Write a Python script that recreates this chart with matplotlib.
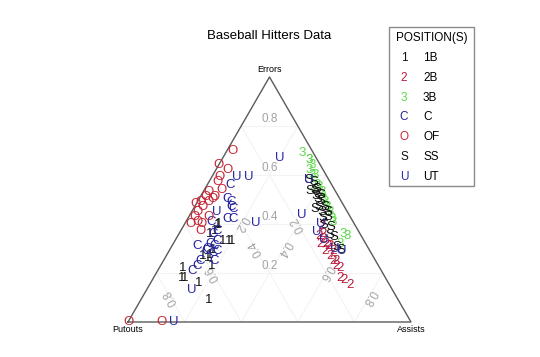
import matplotlib
matplotlib.use("Agg")
import matplotlib.pyplot as plt
from matplotlib.patches import Rectangle
import math

plt.rcParams['font.family'] = ['Liberation Sans', 'DejaVu Sans']

# legend / groups
positions = ['1B', '2B', '3B', 'C', 'OF', 'SS', 'UT']
symbols = ['1', '2', '3', 'C', 'O', 'S', 'U']
colors = ['#111111', '#b81d3e', '#5cd84c', '#22229c', '#c82838', '#111111', '#2a2aa6']

# fractions: putouts, assists, errors
put_1b = [0.48, 0.53, 0.51, 0.50, 0.48, 0.47, 0.59, 0.59, 0.69, 0.72, 0.71, 0.67, 0.67, 0.60, 0.49, 0.55, 0.57]
ast_1b = [0.12, 0.11, 0.12, 0.17, 0.19, 0.20, 0.15, 0.18, 0.08, 0.10, 0.11, 0.17, 0.24, 0.13, 0.12, 0.15, 0.15]
err_1b = [0.40, 0.36, 0.37, 0.33, 0.33, 0.33, 0.26, 0.23, 0.22, 0.18, 0.18, 0.16, 0.09, 0.27, 0.40, 0.29, 0.27]

put_2b = [0.12, 0.13, 0.14, 0.14, 0.16, 0.14, 0.15, 0.13, 0.15, 0.14, 0.14, 0.16, 0.15, 0.14, 0.15, 0.16,
          0.13, 0.15]
ast_2b = [0.49, 0.51, 0.52, 0.54, 0.55, 0.55, 0.58, 0.58, 0.60, 0.61, 0.64, 0.66, 0.68, 0.71, 0.50, 0.52,
          0.56, 0.62]
err_2b = [0.39, 0.36, 0.34, 0.32, 0.29, 0.31, 0.27, 0.29, 0.25, 0.25, 0.22, 0.18, 0.17, 0.15, 0.35, 0.32,
          0.31, 0.23]

put_3b = [0.04, 0.03, 0.05, 0.05, 0.07, 0.05, 0.06, 0.05, 0.06, 0.06, 0.06, 0.06, 0.06, 0.07,
          0.07, 0.06, 0.05, 0.09, 0.03, 0.03, 0.04, 0.05]
ast_3b = [0.27, 0.31, 0.33, 0.35, 0.38, 0.39, 0.42, 0.42, 0.44, 0.45, 0.47, 0.47, 0.49, 0.51,
          0.52, 0.58, 0.60, 0.59, 0.31, 0.33, 0.36, 0.40]
err_3b = [0.69, 0.66, 0.62, 0.60, 0.55, 0.56, 0.52, 0.53, 0.50, 0.49, 0.47, 0.47, 0.45, 0.42,
          0.41, 0.36, 0.35, 0.32, 0.66, 0.64, 0.60, 0.55]

put_c = [0.36, 0.40, 0.39, 0.40, 0.40, 0.44, 0.42, 0.50, 0.52, 0.52, 0.60, 0.57, 0.54, 0.56,
         0.62, 0.64, 0.67, 0.54, 0.55, 0.57, 0.50, 0.58]
ast_c = [0.08, 0.10, 0.12, 0.13, 0.14, 0.14, 0.16, 0.09, 0.12, 0.15, 0.09, 0.13, 0.15, 0.16,
         0.13, 0.13, 0.12, 0.17, 0.13, 0.18, 0.13, 0.13]
err_c = [0.56, 0.50, 0.49, 0.47, 0.46, 0.42, 0.42, 0.41, 0.36, 0.33, 0.31, 0.30, 0.31, 0.28,
         0.25, 0.23, 0.21, 0.29, 0.32, 0.25, 0.37, 0.29]

put_of = [0.28, 0.36, 0.34, 0.38, 0.40, 0.40, 0.45, 0.47, 0.45, 0.50, 0.47, 0.52, 0.50, 0.44,
          0.55, 0.50, 0.58, 0.55, 0.54, 0.56, 1.00, 0.88, 0.53]
ast_of = [0.02, 0.00, 0.04, 0.03, 0.03, 0.06, 0.02, 0.02, 0.05, 0.01, 0.04, 0.00, 0.03, 0.05,
          0.02, 0.07, 0.02, 0.04, 0.06, 0.07, 0.00, 0.12, 0.02]
err_of = [0.70, 0.64, 0.62, 0.59, 0.57, 0.54, 0.53, 0.51, 0.50, 0.49, 0.49, 0.48, 0.47, 0.51,
          0.43, 0.43, 0.40, 0.41, 0.40, 0.37, 0.00, 0.00, 0.45]

put_ss = [0.07, 0.06, 0.06, 0.06, 0.07, 0.07, 0.07, 0.08, 0.09, 0.10, 0.11, 0.10, 0.09, 0.10,
          0.08, 0.11, 0.11, 0.11, 0.09, 0.08, 0.07, 0.09]
ast_ss = [0.35, 0.37, 0.40, 0.42, 0.44, 0.46, 0.48, 0.49, 0.53, 0.56, 0.59, 0.60, 0.44, 0.48,
          0.42, 0.43, 0.50, 0.54, 0.38, 0.41, 0.39, 0.46]
err_ss = [0.58, 0.57, 0.55, 0.52, 0.50, 0.47, 0.45, 0.43, 0.39, 0.35, 0.31, 0.29, 0.47, 0.43,
          0.50, 0.46, 0.40, 0.36, 0.54, 0.52, 0.54, 0.45]

put_ut = [0.13, 0.32, 0.28, 0.46, 0.35, 0.17, 0.71, 0.84, 0.15, 0.14, 0.12, 0.12, 0.10, 0.07]
ast_ut = [0.20, 0.09, 0.13, 0.09, 0.25, 0.40, 0.16, 0.16, 0.49, 0.53, 0.58, 0.48, 0.61, 0.35]
err_ut = [0.67, 0.59, 0.59, 0.45, 0.41, 0.44, 0.13, 0.00, 0.37, 0.34, 0.30, 0.40, 0.29, 0.58]

groups = [
    (put_1b, ast_1b, err_1b),
    (put_2b, ast_2b, err_2b),
    (put_3b, ast_3b, err_3b),
    (put_c, ast_c, err_c),
    (put_of, ast_of, err_of),
    (put_ss, ast_ss, err_ss),
    (put_ut, ast_ut, err_ut),
]

grid_ticks = [0.2, 0.4, 0.6, 0.8]
H = math.sqrt(3) / 2


def tern(p, a, e):
    t = p + a + e
    return (a + e / 2) / t, e * H / t


fig = plt.figure(figsize=(5.4, 3.57), dpi=100)
ax = fig.add_axes([128 / 540, 35 / 357, 283 / 540, 245 / 357])
ax.set_xlim(0, 1)
ax.set_ylim(0, H)
ax.axis('off')

grid_col = '#f3f3f3'
lab_col = '#a3a3a3'
for v in grid_ticks:
    # errors constant
    x0, y0 = tern(1 - v, 0, v)
    x1, y1 = tern(0, 1 - v, v)
    ax.plot([x0, x1], [y0, y1], color=grid_col, lw=0.8, zorder=1)
    # putouts constant
    x0, y0 = tern(v, 1 - v, 0)
    x1, y1 = tern(v, 0, 1 - v)
    ax.plot([x0, x1], [y0, y1], color=grid_col, lw=0.8, zorder=1)
    # assists constant
    x0, y0 = tern(1 - v, v, 0)
    x1, y1 = tern(0, v, 1 - v)
    ax.plot([x0, x1], [y0, y1], color=grid_col, lw=0.8, zorder=1)

    # labels along the medians
    ex, ey = tern(0.5 - v / 2, 0.5 - v / 2, v)
    ax.text(ex, ey + 0.005, f'{v:.1f}', ha='center', va='bottom', color=lab_col, fontsize=8.5, zorder=2)
    px_, py_ = tern(v, 0.5 - v / 2, 0.5 - v / 2)
    ax.text(px_, py_, f'{v:.1f}', ha='center', va='center', color=lab_col, fontsize=8.5,
            rotation=120, rotation_mode='anchor', zorder=2)
    ax_, ay_ = tern(0.5 - v / 2, v, 0.5 - v / 2)
    ax.text(ax_, ay_, f'{v:.1f}', ha='center', va='center', color=lab_col, fontsize=8.5,
            rotation=240, rotation_mode='anchor', zorder=2)

# triangle border
ax.plot([0, 1, 0.5, 0], [0, 0, H, 0], color='#5a5a5a', lw=1.0, zorder=3, clip_on=False)

ax.text(0.5, H + 0.012, 'Errors', ha='center', va='bottom', fontsize=6.5, zorder=4)
ax.text(0.0, -0.012, 'Putouts', ha='center', va='top', fontsize=6.5, zorder=4)
ax.text(1.0, -0.012, 'Assists', ha='center', va='top', fontsize=6.5, zorder=4)

for (pp, aa, ee), sym, col in zip(groups, symbols, colors):
    for p, a, e in zip(pp, aa, ee):
        x, y = tern(p, a, e)
        ax.text(x, y, sym, ha='center', va='center', color=col, fontsize=9.5, zorder=5, clip_on=False)

fig.text(269.5 / 540, 1 - 36 / 357, 'Baseball Hitters Data', ha='center', va='center', fontsize=9.5)

# legend box
fig.patches.append(Rectangle((389 / 540, 1 - 186 / 357), 85 / 540, 159 / 357,
                             transform=fig.transFigure, fill=False, edgecolor='#8a8a8a', lw=1.0))
fig.text(431.5 / 540, 1 - 38 / 357, 'POSITION(S)', ha='center', va='center', fontsize=8.5)
for i, (sym, col, pos) in enumerate(zip(symbols, colors, positions)):
    yy = 1 - (58 + i * 19.8) / 357
    fig.text(404 / 540, yy, sym, ha='center', va='center', color=col, fontsize=8.5)
    fig.text(423 / 540, yy, pos, ha='left', va='center', color='black', fontsize=8.5)

fig.savefig('out.png', dpi=100)
